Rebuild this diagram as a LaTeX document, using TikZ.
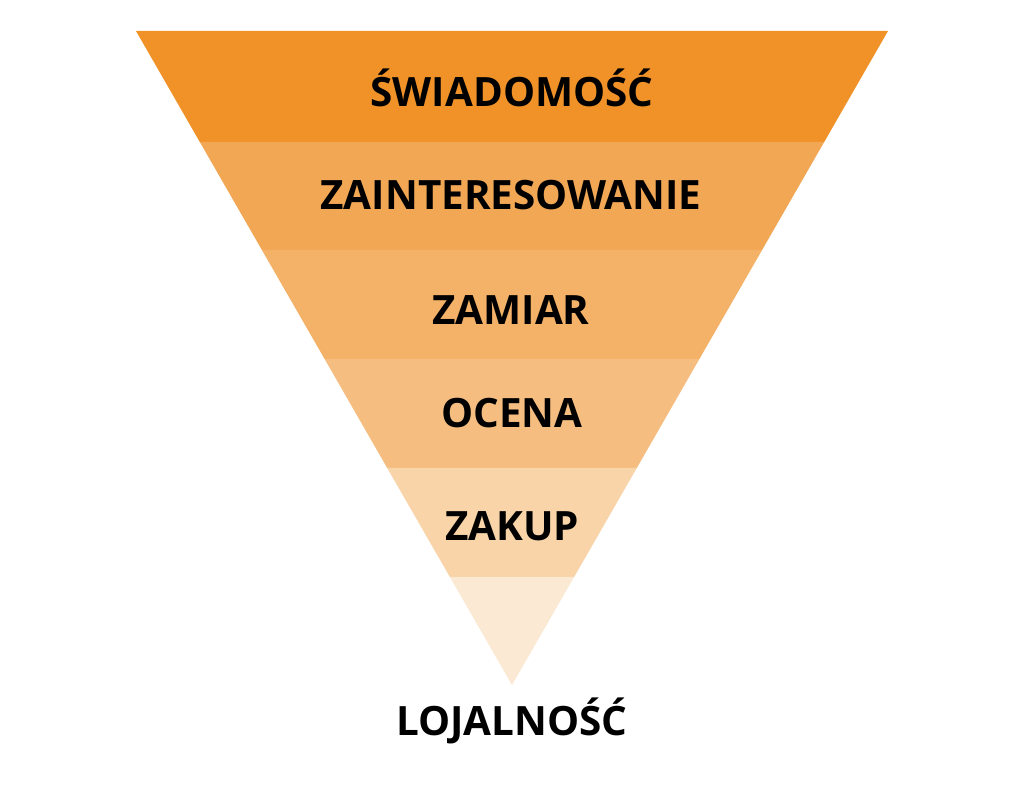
\documentclass[tikz,border=0pt]{standalone}
\usepackage{fontspec}
\setmainfont{Open Sans}
\definecolor{cA}{HTML}{F09227}
\definecolor{cB}{HTML}{F2A755}
\definecolor{cC}{HTML}{F4B168}
\definecolor{cD}{HTML}{F5BE80}
\definecolor{cE}{HTML}{F8D4A8}
\definecolor{cF}{HTML}{FBE9D4}
\tikzset{lbl/.style={anchor=base,font=\bfseries\fontsize{40.4}{40.4}\selectfont,text=black,inner sep=0pt}}
\begin{document}
\begin{tikzpicture}[x=1pt,y=1pt]
\useasboundingbox[fill=white] (0,0) rectangle (1024,808);
\fill[cA] (136,777) -- (888,777) -- (824.2,666) -- (199.8,666) -- cycle;
\fill[cB] (199.8,666) -- (824.2,666) -- (762.1,558) -- (261.9,558) -- cycle;
\fill[cC] (261.9,558) -- (762.1,558) -- (699.4,449) -- (324.6,449) -- cycle;
\fill[cD] (324.6,449) -- (699.4,449) -- (636.8,340) -- (387.2,340) -- cycle;
\fill[cE] (387.2,340) -- (636.8,340) -- (574.1,231) -- (449.9,231) -- cycle;
\fill[cF] (449.9,231) -- (574.1,231) -- (512,123) -- cycle;
\node[lbl] (swiadomosc) at (512,701) {ŚWIADOMOŚĆ};
\node[lbl] (zainteresowanie) at (511,598) {ZAINTERESOWANIE};
\node[lbl] (zamiar) at (511,483) {ZAMIAR};
\node[lbl] (ocena) at (512,380) {OCENA};
\node[lbl] (zakup) at (512,267) {ZAKUP};
\node[lbl] (lojalnosc) at (512,73) {LOJALNOŚĆ};
\end{tikzpicture}
\end{document}
